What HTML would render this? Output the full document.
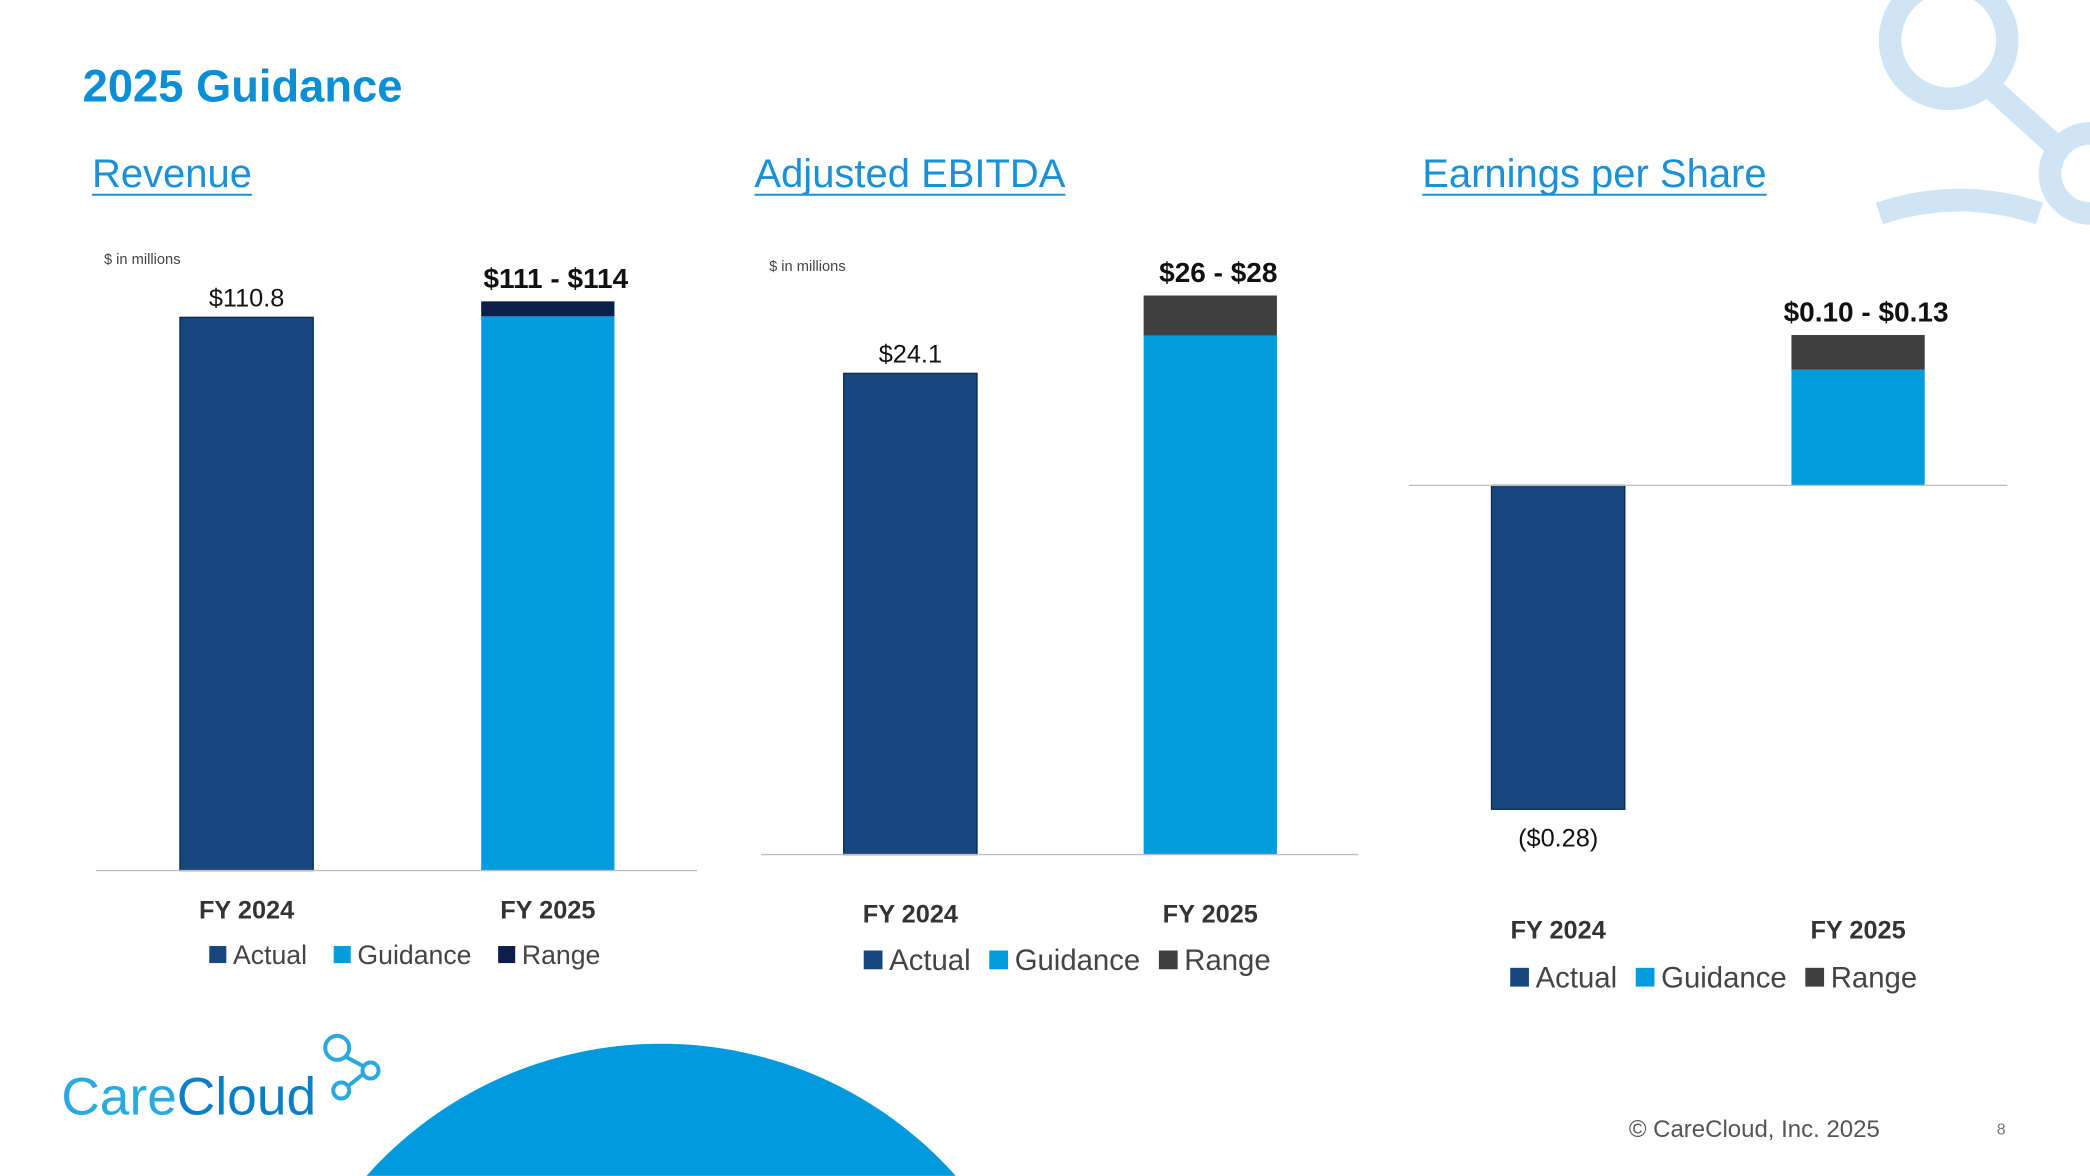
<!DOCTYPE html>
<html><head><meta charset="utf-8"><style>
html,body{margin:0;padding:0;background:#fff;width:2090px;height:1176px;overflow:hidden}
svg{display:block;overflow:hidden}
text{font-family:"Liberation Sans","DejaVu Sans",sans-serif}
</style></head><body>
<svg id="s" width="2090" height="1176" viewBox="0 0 1568 882" xmlns="http://www.w3.org/2000/svg">
<g fill="none" stroke="#cfe5f5" stroke-width="17">
<path d="M1462 -14 A44 44 0 1 0 1462 74 A44 44 0 1 0 1462 -14"/><line x1="1492" y1="64" x2="1545" y2="112"/>
<path d="M1410 160 Q1470 140 1530 160"/><path d="M1568 100 A30 30 0 0 0 1568 160"/>
</g>
<path d="M275 882 A296 296 0 0 1 717 882 Z" fill="#0099dd"/>
<text x="62" y="76" font-size="34" font-weight="bold" fill="#0a8fd6">2025 Guidance</text>
<g id="charts"></g>
<g>
<text x="46" y="836" font-size="40"><tspan fill="#2aa8e0">Care</tspan><tspan fill="#0a7fc6">Cloud</tspan></text>
<g fill="none" stroke="#2aa8e0" stroke-width="3"><circle cx="253" cy="786" r="9"/><circle cx="278" cy="803" r="6"/><circle cx="256" cy="818" r="6"/><line x1="260" y1="793" x2="273" y2="800"/><line x1="272" y1="806" x2="262" y2="814"/></g>
</g>
<text x="1222" y="853" font-size="18" fill="#555">© CareCloud, Inc. 2025</text>
<text x="1498" y="851" font-size="12" fill="#777">8</text>
</svg>
<script>
const categories=["FY 2024","FY 2025"];
const revActual=[110.8,0], revGuidance=[0,111], revRange=[0,3];
const ebActual=[24.1,0], ebGuidance=[0,26], ebRange=[0,2];
const epsActual=[-0.28,0], epsGuidance=[0,0.10], epsRange=[0,0.03];
const revLabels=["$110.8","$111 - $114"], ebLabels=["$24.1","$26 - $28"], epsLabels=["($0.28)","$0.10  - $0.13"];
const legendNames=["Actual","Guidance","Range"];
const NS="http://www.w3.org/2000/svg", root=document.getElementById('charts');
function el(tag,attrs,parent,txt){const e=document.createElementNS(NS,tag);for(const k in attrs)e.setAttribute(k,attrs[k]);if(txt!=null)e.textContent=txt;(parent||root).appendChild(e);return e;}
const charts=[
 {name:'revenue',title:'Revenue',tx:69,ax0:72,ax1:523,zero:653,pxPer:3.746,cx:[185,411],A:revActual,G:revGuidance,R:revRange,L:revLabels,rangeColor:'#0c1f4a',note:[78,198],catY:689,legY:716,legX:157,legFs:20,gap:20,lblY:[230,220],lblFs:[19,21]},
 {name:'ebitda',title:'Adjusted EBITDA',tx:566,ax0:571,ax1:1019,zero:641,pxPer:14.98,cx:[683,908],A:ebActual,G:ebGuidance,R:ebRange,L:ebLabels,rangeColor:'#404040',note:[577,203],catY:692,legY:720,legX:648,legFs:22,gap:14,lblY:[276,211],lblFs:[19,21]},
 {name:'eps',title:'Earnings per Share',tx:1067,ax0:1057,ax1:1506,zero:364,pxPer:867.9,cx:[1169,1394],A:epsActual,G:epsGuidance,R:epsRange,L:epsLabels,rangeColor:'#404040',note:null,catY:704,legY:733,legX:1133,legFs:22,gap:14,lblY:[635,241],lblFs:[19,21]}
];
const actualColor='#17477f', guideColor='#009cde';
charts.forEach(c=>{
 const g=el('g',{});
 
 
 const t=el('text',{x:c.tx,y:140,'font-size':30,fill:'#1a90d8'},g,c.title);
 
 
 el('line',{x1:c.tx,x2:c.tx+t.getComputedTextLength(),y1:146,y2:146,stroke:'#1a90d8','stroke-width':1.5},g);
 if(c.note){const n=el('text',{x:c.note[0],y:c.note[1],'font-size':11,fill:'#444'},g,'$ in millions');
  
  }
 const y=v=>c.zero-v*c.pxPer;
 const bw=100;
 categories.forEach((cat,i)=>{
  const x=c.cx[i]-bw/2;
  const a=c.A[i];
  if(a!==0){const r=el('rect',{x:x,y:Math.min(y(a),c.zero),width:bw,height:Math.abs(y(a)-c.zero),fill:actualColor,stroke:'#0d2a4d','stroke-width':1},g);
   
   }
  const gv=c.G[i];
  if(gv!==0){const r=el('rect',{x:x,y:y(gv),width:bw,height:c.zero-y(gv),fill:guideColor},g);
   
   }
  const rv=c.R[i];
  if(rv!==0){const r=el('rect',{x:x,y:y(gv+rv),width:bw,height:y(gv)-y(gv+rv),fill:c.rangeColor},g);
   
   }
  const top=i===0?(a<0?y(a)+28:y(a)-8):y(gv+rv)-10;
  const lb=el('text',{x:c.cx[i]+(i?6:0),y:top,'font-size':c.lblFs[i],'text-anchor':'middle',fill:'#111','font-weight':i?'bold':'normal'},g,c.L[i]);
  
  
  const cl=el('text',{x:c.cx[i],y:c.catY,'font-size':19,'font-weight':'bold','text-anchor':'middle',fill:'#333'},g,cat);
  
  
 });
 const ax=el('line',{x1:c.ax0,x2:c.ax1,y1:c.zero,y2:c.zero,stroke:'#bfbfbf','stroke-width':1},g);
 
 
 let lx=c.legX;
 const cols=[actualColor,guideColor,c.rangeColor];
 legendNames.forEach((nm,k)=>{
  const lg=el('g',{},g);
  
  
  const sq=c.legFs*0.64;
  el('rect',{x:lx,y:c.legY-sq/2,width:sq,height:sq,fill:cols[k]},lg);
  const tt=el('text',{x:lx+sq+5,y:c.legY+c.legFs*0.35,'font-size':c.legFs,fill:'#444'},lg,nm);
  lx+=sq+5+tt.getComputedTextLength()+c.gap;
 });
});
</script>
</body></html>
